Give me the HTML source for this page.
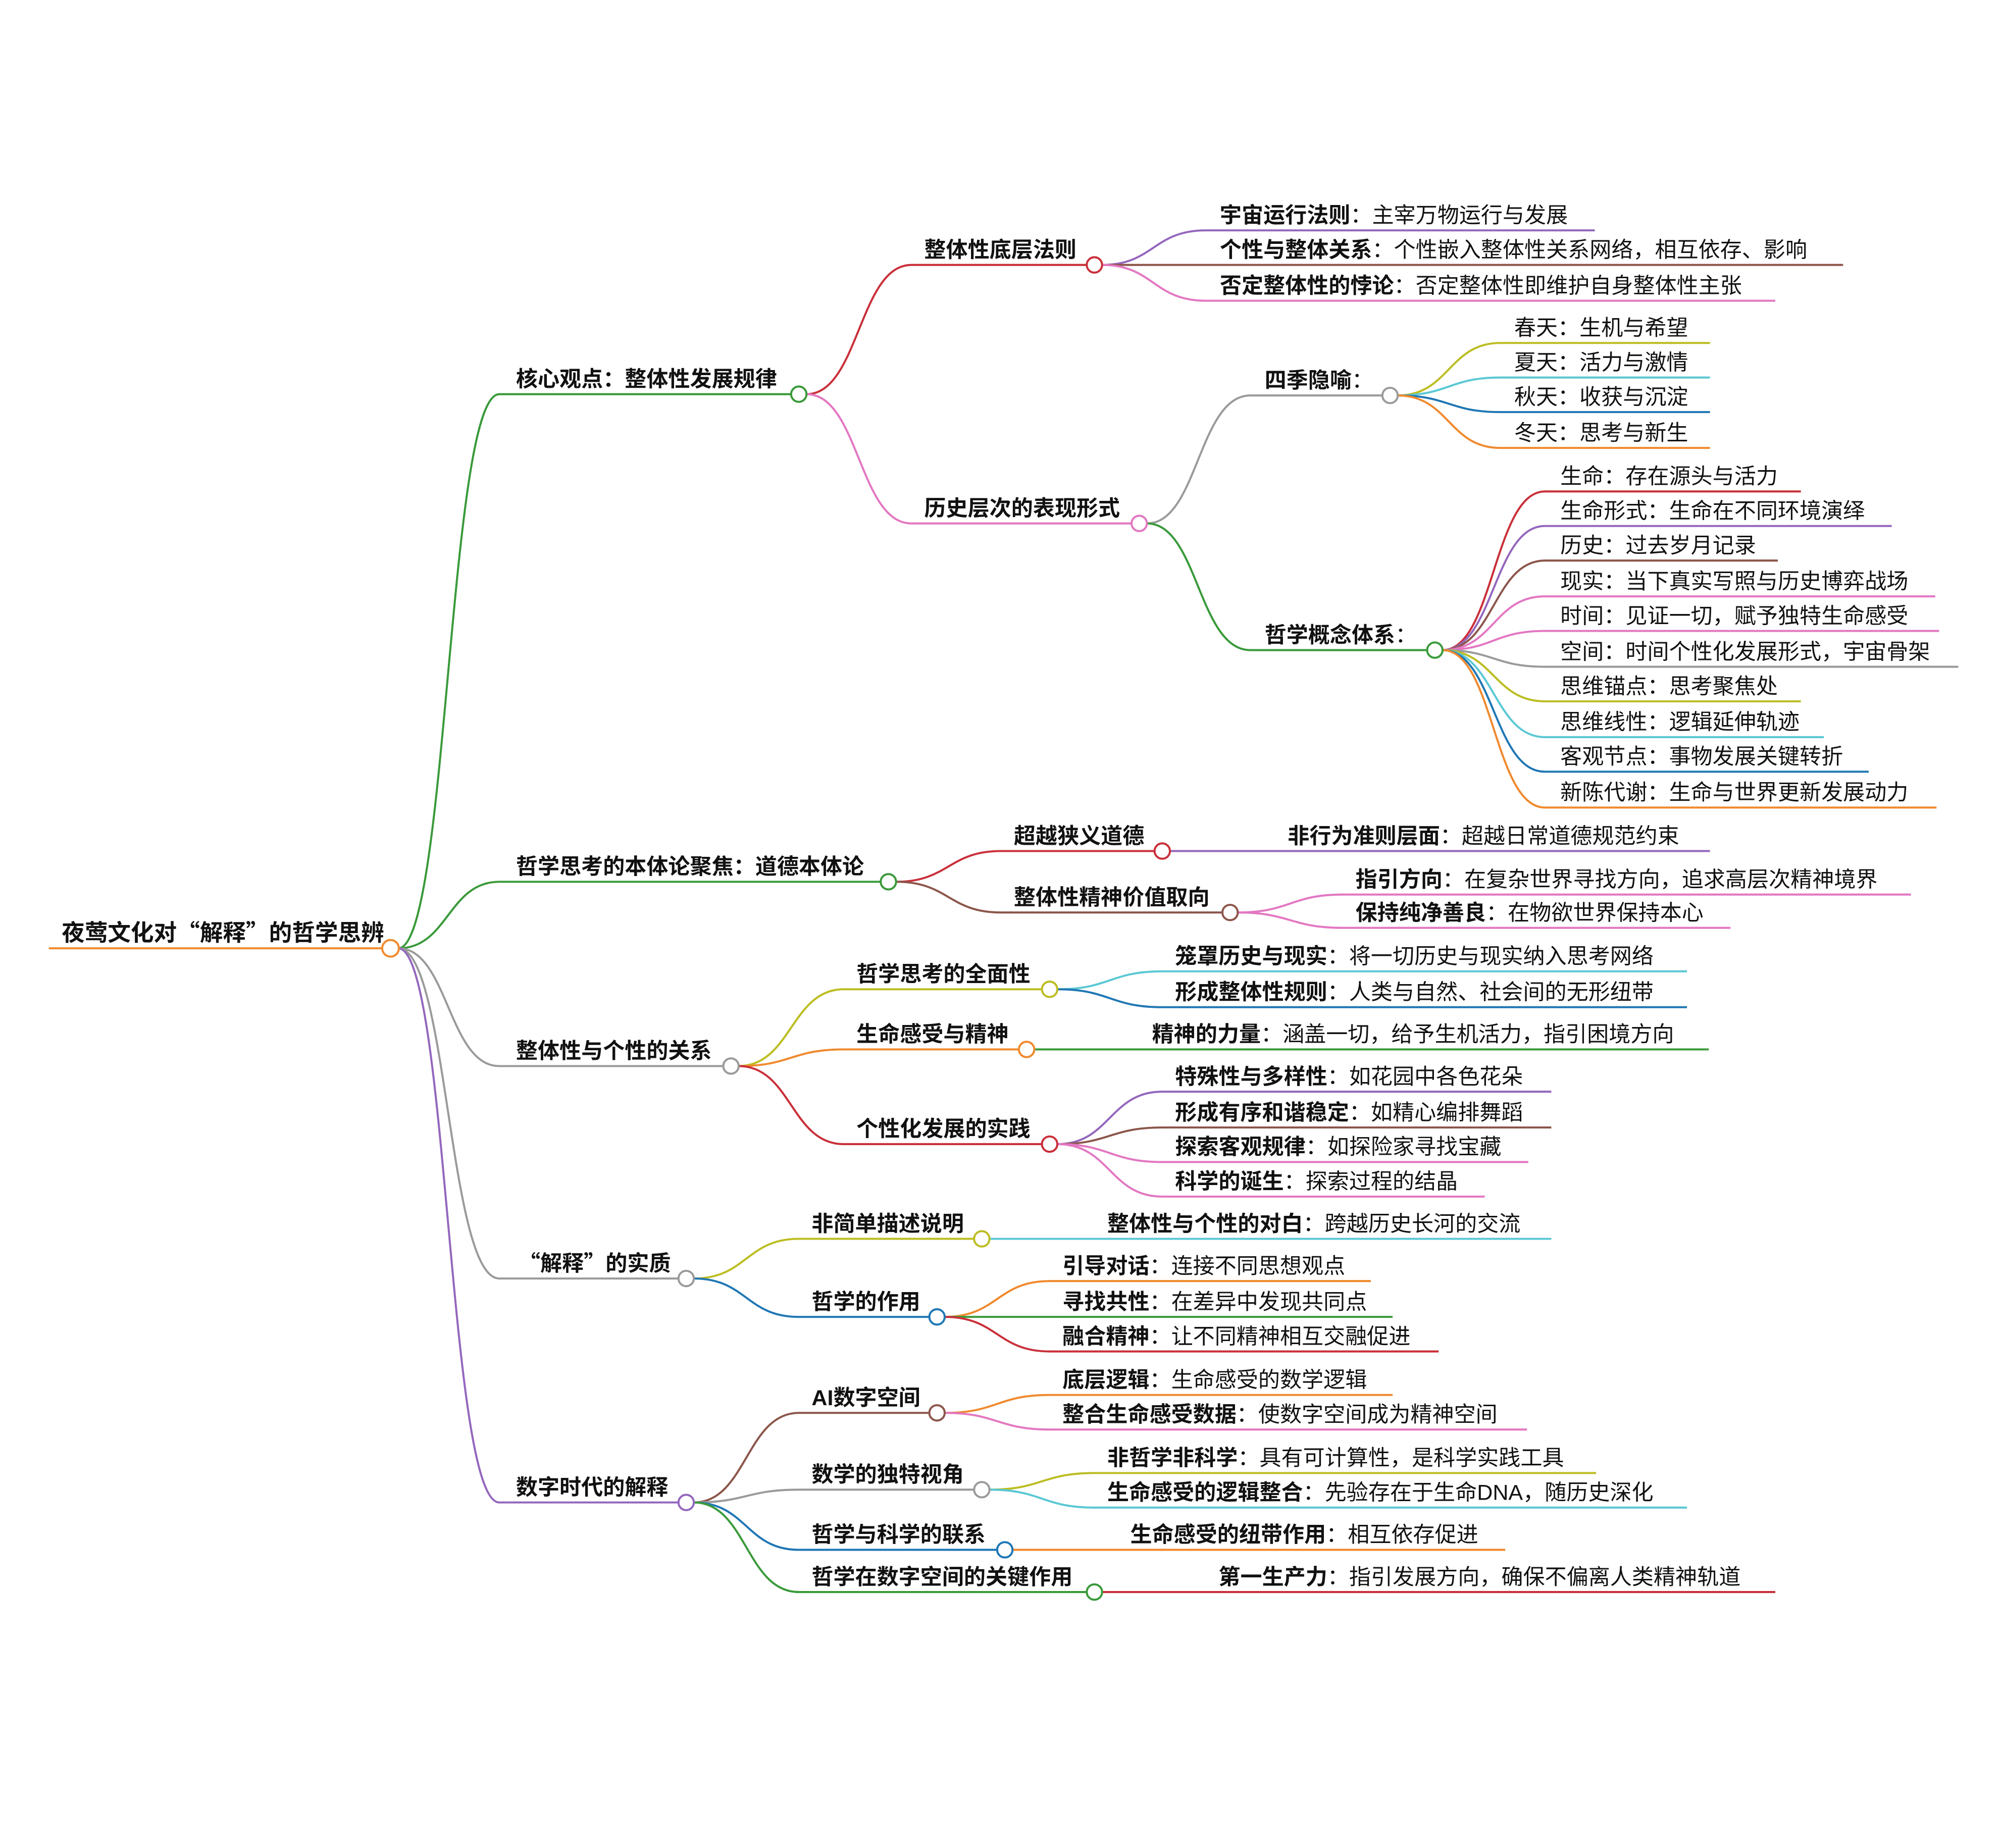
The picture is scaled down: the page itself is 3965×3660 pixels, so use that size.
<!DOCTYPE html>
<html><head><meta charset="utf-8"><style>
html,body{margin:0;padding:0;background:#fff;}
svg{display:block;}
text{font-family:"Liberation Sans","Noto Sans CJK SC",sans-serif;font-size:17px;fill:#111;}
.b{font-weight:bold;}
.q{font-family:"Noto Sans CJK SC",sans-serif;}
path{fill:none;stroke-width:1.6;}
circle{fill:#fff;stroke-width:1.6;}
</style></head><body>
<svg width="3965" height="3660" viewBox="0 0 1564 1444" xmlns="http://www.w3.org/2000/svg">
<path d="M38 741 H299" stroke="#f08a2e" stroke-width="2"/>
<path d="M311 741 C350 741,350 308,390 308 H618" stroke="#3a9a3a"/>
<path d="M311 741 C350 741,350 689,390 689 H688" stroke="#3a9a3a"/>
<path d="M311 741 C350 741,350 833,390 833 H565" stroke="#9a9a9a"/>
<path d="M311 741 C350 741,350 999,390 999 H530" stroke="#9a9a9a"/>
<path d="M311 741 C350 741,350 1174,390 1174 H530" stroke="#9467bd"/>
<path d="M630 308 C671 308,671 207,712 207 H849" stroke="#c9303a"/>
<path d="M630 308 C671 308,671 409,712 409 H884" stroke="#e377c2"/>
<path d="M861 207 C901 207,901 180,942 180 H1246" stroke="#9467bd"/>
<path d="M861 207 C901 207,901 207,942 207 H1440" stroke="#8c564b"/>
<path d="M861 207 C901 207,901 235,942 235 H1387" stroke="#e377c2"/>
<path d="M896 409 C936 409,936 309,977 309 H1080" stroke="#9a9a9a"/>
<path d="M896 409 C936 409,936 508,977 508 H1115" stroke="#3a9a3a"/>
<path d="M1092 309 C1132 309,1132 268,1172 268 H1336" stroke="#bcbd22"/>
<path d="M1092 309 C1132 309,1132 295,1172 295 H1336" stroke="#5bc8d4"/>
<path d="M1092 309 C1132 309,1132 322,1172 322 H1336" stroke="#1f77b4"/>
<path d="M1092 309 C1132 309,1132 350,1172 350 H1336" stroke="#f08a2e"/>
<path d="M1127 508 C1167 508,1167 384,1207 384 H1407" stroke="#c9303a"/>
<path d="M1127 508 C1167 508,1167 411,1207 411 H1478" stroke="#9467bd"/>
<path d="M1127 508 C1167 508,1167 438,1207 438 H1389" stroke="#8c564b"/>
<path d="M1127 508 C1167 508,1167 466,1207 466 H1512" stroke="#e377c2"/>
<path d="M1127 508 C1167 508,1167 493,1207 493 H1515" stroke="#e377c2"/>
<path d="M1127 508 C1167 508,1167 521,1207 521 H1530" stroke="#9a9a9a"/>
<path d="M1127 508 C1167 508,1167 548,1207 548 H1407" stroke="#bcbd22"/>
<path d="M1127 508 C1167 508,1167 576,1207 576 H1425" stroke="#5bc8d4"/>
<path d="M1127 508 C1167 508,1167 603,1207 603 H1460" stroke="#1f77b4"/>
<path d="M1127 508 C1167 508,1167 631,1207 631 H1513" stroke="#f08a2e"/>
<path d="M700 689 C741 689,741 665,782 665 H902" stroke="#c9303a"/>
<path d="M700 689 C741 689,741 713,782 713 H955" stroke="#8c564b"/>
<path d="M914 665 H1336" stroke="#9467bd"/>
<path d="M967 713 C1008 713,1008 699,1049 699 H1493" stroke="#e377c2"/>
<path d="M967 713 C1008 713,1008 725,1049 725 H1352" stroke="#e377c2"/>
<path d="M577 833 C618 833,618 773,659 773 H814" stroke="#bcbd22"/>
<path d="M577 833 C618 833,618 820,659 820 H796" stroke="#f08a2e"/>
<path d="M577 833 C618 833,618 894,659 894 H814" stroke="#c9303a"/>
<path d="M826 773 C867 773,867 759,908 759 H1318" stroke="#5bc8d4"/>
<path d="M826 773 C867 773,867 787,908 787 H1318" stroke="#1f77b4"/>
<path d="M808 820 H1335" stroke="#3a9a3a"/>
<path d="M826 894 C867 894,867 853,908 853 H1212" stroke="#9467bd"/>
<path d="M826 894 C867 894,867 881,908 881 H1212" stroke="#8c564b"/>
<path d="M826 894 C867 894,867 908,908 908 H1194" stroke="#e377c2"/>
<path d="M826 894 C867 894,867 935,908 935 H1160" stroke="#e377c2"/>
<path d="M542 999 C583 999,583 968,624 968 H761" stroke="#bcbd22"/>
<path d="M542 999 C583 999,583 1029,624 1029 H726" stroke="#1f77b4"/>
<path d="M773 968 H1212" stroke="#5bc8d4"/>
<path d="M738 1029 C779 1029,779 1001,820 1001 H1071" stroke="#f08a2e"/>
<path d="M738 1029 C779 1029,779 1029,820 1029 H1088" stroke="#3a9a3a"/>
<path d="M738 1029 C779 1029,779 1056,820 1056 H1124" stroke="#c9303a"/>
<path d="M542 1174 C583 1174,583 1104,624 1104 H726" stroke="#8c564b"/>
<path d="M542 1174 C583 1174,583 1164,624 1164 H761" stroke="#9a9a9a"/>
<path d="M542 1174 C583 1174,583 1211,624 1211 H779" stroke="#1f77b4"/>
<path d="M542 1174 C583 1174,583 1244,624 1244 H849" stroke="#3a9a3a"/>
<path d="M738 1104 C779 1104,779 1090,820 1090 H1088" stroke="#f08a2e"/>
<path d="M738 1104 C779 1104,779 1117,820 1117 H1193" stroke="#e377c2"/>
<path d="M773 1164 C814 1164,814 1151,855 1151 H1247" stroke="#bcbd22"/>
<path d="M773 1164 C814 1164,814 1178,855 1178 H1318" stroke="#5bc8d4"/>
<path d="M791 1211 H1176" stroke="#f08a2e"/>
<path d="M861 1244 H1387" stroke="#c9303a"/>

<circle cx="305" cy="741" r="6.5" stroke="#f08a2e"/>
<circle cx="624" cy="308" r="6" stroke="#3a9a3a"/>
<circle cx="694" cy="689" r="6" stroke="#3a9a3a"/>
<circle cx="571" cy="833" r="6" stroke="#9a9a9a"/>
<circle cx="536" cy="999" r="6" stroke="#9a9a9a"/>
<circle cx="536" cy="1174" r="6" stroke="#9467bd"/>
<circle cx="855" cy="207" r="6" stroke="#c9303a"/>
<circle cx="890" cy="409" r="6" stroke="#e377c2"/>
<circle cx="1086" cy="309" r="6" stroke="#9a9a9a"/>
<circle cx="1121" cy="508" r="6" stroke="#3a9a3a"/>
<circle cx="908" cy="665" r="6" stroke="#c9303a"/>
<circle cx="961" cy="713" r="6" stroke="#8c564b"/>
<circle cx="820" cy="773" r="6" stroke="#bcbd22"/>
<circle cx="802" cy="820" r="6" stroke="#f08a2e"/>
<circle cx="820" cy="894" r="6" stroke="#c9303a"/>
<circle cx="767" cy="968" r="6" stroke="#bcbd22"/>
<circle cx="732" cy="1029" r="6" stroke="#1f77b4"/>
<circle cx="732" cy="1104" r="6" stroke="#8c564b"/>
<circle cx="767" cy="1164" r="6" stroke="#9a9a9a"/>
<circle cx="785" cy="1211" r="6" stroke="#1f77b4"/>
<circle cx="855" cy="1244" r="6" stroke="#3a9a3a"/>

<text x="48" y="735" class="b" style="font-size:18px">夜莺文化对<tspan class="q">“</tspan>解释<tspan class="q">”</tspan>的哲学思辨</text>
<text x="403" y="302" class="b">核心观点：整体性发展规律</text>
<text x="403" y="683" class="b">哲学思考的本体论聚焦：道德本体论</text>
<text x="403" y="827" class="b">整体性与个性的关系</text>
<text x="405" y="993" class="b"><tspan class="q">“</tspan>解释<tspan class="q">”</tspan>的实质</text>
<text x="403" y="1168" class="b">数字时代的解释</text>

<text x="722" y="201" class="b">整体性底层法则</text>
<text x="722" y="403" class="b">历史层次的表现形式</text>
<text x="953" y="174"><tspan class="b">宇宙运行法则</tspan>：主宰万物运行与发展</text>
<text x="953" y="201"><tspan class="b">个性与整体关系</tspan>：个性嵌入整体性关系网络，相互依存、影响</text>
<text x="953" y="229"><tspan class="b">否定整体性的悖论</tspan>：否定整体性即维护自身整体性主张</text>
<text x="988" y="303"><tspan class="b">四季隐喻</tspan>：</text>
<text x="988" y="502"><tspan class="b">哲学概念体系</tspan>：</text>
<text x="1183" y="262">春天：生机与希望</text>
<text x="1183" y="289">夏天：活力与激情</text>
<text x="1183" y="316">秋天：收获与沉淀</text>
<text x="1183" y="344">冬天：思考与新生</text>
<text x="1219" y="378">生命：存在源头与活力</text>
<text x="1219" y="405">生命形式：生命在不同环境演绎</text>
<text x="1219" y="432">历史：过去岁月记录</text>
<text x="1219" y="460">现实：当下真实写照与历史博弈战场</text>
<text x="1219" y="487">时间：见证一切，赋予独特生命感受</text>
<text x="1219" y="515">空间：时间个性化发展形式，宇宙骨架</text>
<text x="1219" y="542">思维锚点：思考聚焦处</text>
<text x="1219" y="570">思维线性：逻辑延伸轨迹</text>
<text x="1219" y="597">客观节点：事物发展关键转折</text>
<text x="1219" y="625">新陈代谢：生命与世界更新发展动力</text>

<text x="792" y="659" class="b">超越狭义道德</text>
<text x="792" y="707" class="b">整体性精神价值取向</text>
<text x="1006" y="659"><tspan class="b">非行为准则层面</tspan>：超越日常道德规范约束</text>
<text x="1059" y="693"><tspan class="b">指引方向</tspan>：在复杂世界寻找方向，追求高层次精神境界</text>
<text x="1059" y="719"><tspan class="b">保持纯净善良</tspan>：在物欲世界保持本心</text>

<text x="669" y="767" class="b">哲学思考的全面性</text>
<text x="669" y="814" class="b">生命感受与精神</text>
<text x="669" y="888" class="b">个性化发展的实践</text>
<text x="918" y="753"><tspan class="b">笼罩历史与现实</tspan>：将一切历史与现实纳入思考网络</text>
<text x="918" y="781"><tspan class="b">形成整体性规则</tspan>：人类与自然、社会间的无形纽带</text>
<text x="900" y="814"><tspan class="b">精神的力量</tspan>：涵盖一切，给予生机活力，指引困境方向</text>
<text x="918" y="847"><tspan class="b">特殊性与多样性</tspan>：如花园中各色花朵</text>
<text x="918" y="875"><tspan class="b">形成有序和谐稳定</tspan>：如精心编排舞蹈</text>
<text x="918" y="902"><tspan class="b">探索客观规律</tspan>：如探险家寻找宝藏</text>
<text x="918" y="929"><tspan class="b">科学的诞生</tspan>：探索过程的结晶</text>

<text x="634" y="962" class="b">非简单描述说明</text>
<text x="634" y="1023" class="b">哲学的作用</text>
<text x="865" y="962"><tspan class="b">整体性与个性的对白</tspan>：跨越历史长河的交流</text>
<text x="830" y="995"><tspan class="b">引导对话</tspan>：连接不同思想观点</text>
<text x="830" y="1023"><tspan class="b">寻找共性</tspan>：在差异中发现共同点</text>
<text x="830" y="1050"><tspan class="b">融合精神</tspan>：让不同精神相互交融促进</text>

<text x="634" y="1098" class="b">AI数字空间</text>
<text x="634" y="1158" class="b">数学的独特视角</text>
<text x="634" y="1205" class="b">哲学与科学的联系</text>
<text x="634" y="1238" class="b">哲学在数字空间的关键作用</text>
<text x="830" y="1084"><tspan class="b">底层逻辑</tspan>：生命感受的数学逻辑</text>
<text x="830" y="1111"><tspan class="b">整合生命感受数据</tspan>：使数字空间成为精神空间</text>
<text x="865" y="1145"><tspan class="b">非哲学非科学</tspan>：具有可计算性，是科学实践工具</text>
<text x="865" y="1172"><tspan class="b">生命感受的逻辑整合</tspan>：先验存在于生命DNA，随历史深化</text>
<text x="883" y="1205"><tspan class="b">生命感受的纽带作用</tspan>：相互依存促进</text>
<text x="952" y="1238"><tspan class="b">第一生产力</tspan>：指引发展方向，确保不偏离人类精神轨道</text>
</svg>
</body></html>
